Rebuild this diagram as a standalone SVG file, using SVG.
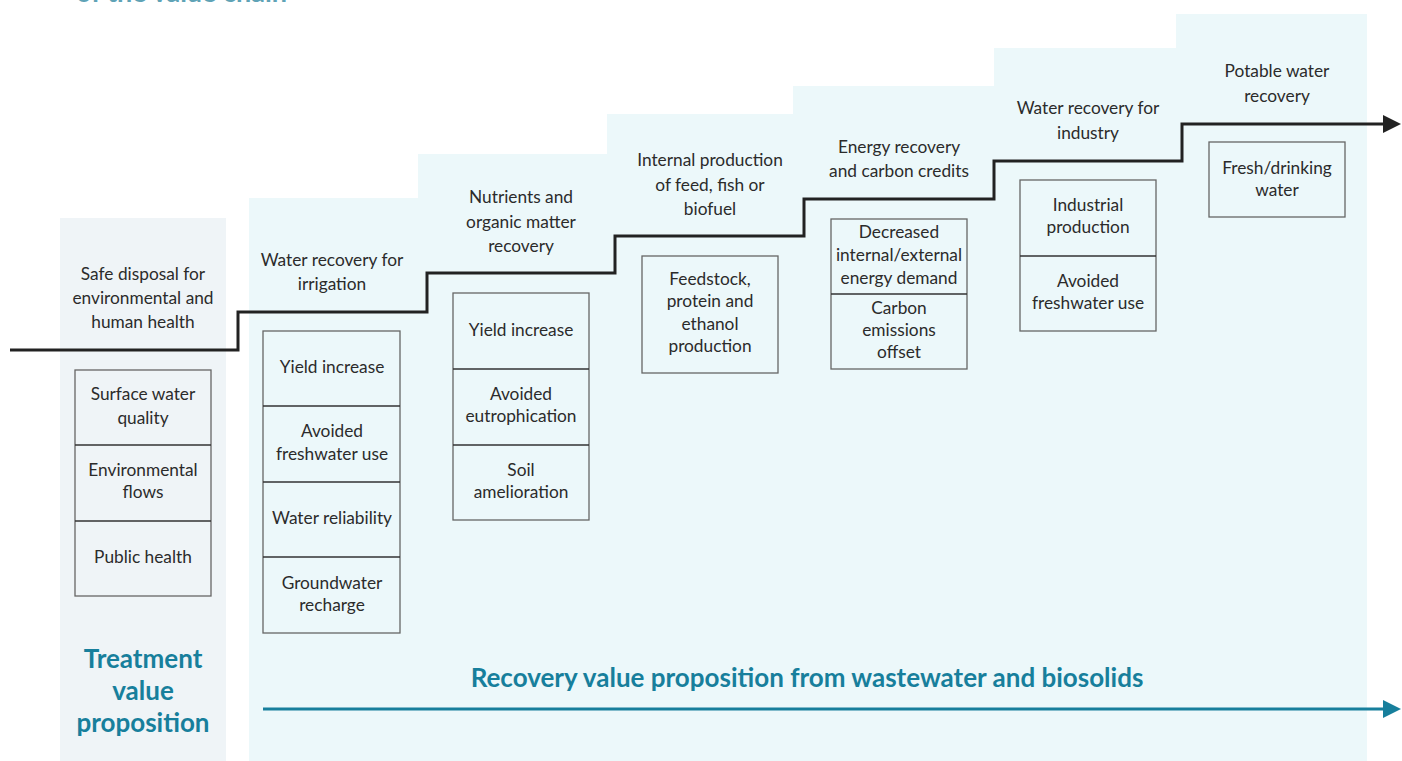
<svg xmlns="http://www.w3.org/2000/svg" width="1402" height="761" viewBox="0 0 1402 761">
<style>
.t{font-family:Lato,"Liberation Sans",sans-serif;font-size:17.3px;fill:#2b2b2b;text-anchor:middle}
.b{fill:none;stroke:#666;stroke-width:1.3}
.d{stroke:#333;stroke-width:1.3}
.h{font-family:Lato,"Liberation Sans",sans-serif;font-weight:bold;fill:#177f9c;text-anchor:middle}
</style>
<defs>
<marker id="ak" markerWidth="6" markerHeight="6" refX="1" refY="3" orient="auto" markerUnits="strokeWidth"><path d="M0,0 L6,3 L0,6 Z" fill="#222"/></marker>
<marker id="at" markerWidth="6" markerHeight="6" refX="1" refY="3" orient="auto" markerUnits="strokeWidth"><path d="M0,0 L6,3 L0,6 Z" fill="#177f9c"/></marker>
</defs>
<rect width="1402" height="761" fill="#fff"/>
<text x="76" y="2" class="h" style="font-size:27px;text-anchor:start;fill:#5fa3b6">of the value chain</text>
<g id="panels">
<rect x="60" y="218" width="166" height="543" fill="#eff4f7"/>
<path d="M249,761 V198 H418 V154 H607 V114 H793 V86 H994 V48 H1176 V14 H1367 V761 Z" fill="#ecf8fa"/>
</g>
<g id="connectors">
<polyline points="10,350 238,350 238,312 427,312 427,273 615,273 615,236 804,236 804,199 994,199 994,161 1182,161 1182,124 1386,124" fill="none" stroke="#222" stroke-width="3" marker-end="url(#ak)"/>
<line x1="263" y1="709" x2="1386" y2="709" stroke="#177f9c" stroke-width="3" marker-end="url(#at)"/>
</g>
<g id="col1">
<text class="t" x="143"><tspan x="143" y="280">Safe disposal for</tspan><tspan x="143" y="304">environmental and</tspan><tspan x="143" y="328">human health</tspan></text>
<rect class="b" x="75" y="370" width="136" height="226"/>
<line class="d" x1="75" y1="445" x2="211" y2="445"/><line class="d" x1="75" y1="521" x2="211" y2="521"/>
<text class="t"><tspan x="143" y="400">Surface water</tspan><tspan x="143" y="424">quality</tspan><tspan x="143" y="476">Environmental</tspan><tspan x="143" y="498">flows</tspan><tspan x="143" y="563">Public health</tspan></text>
</g>
<g id="col2">
<text class="t"><tspan x="332" y="266">Water recovery for</tspan><tspan x="332" y="290">irrigation</tspan></text>
<rect class="b" x="263" y="331" width="137" height="302"/>
<line class="d" x1="263" y1="406" x2="400" y2="406"/><line class="d" x1="263" y1="482" x2="400" y2="482"/><line class="d" x1="263" y1="557" x2="400" y2="557"/>
<text class="t"><tspan x="332" y="373">Yield increase</tspan><tspan x="332" y="437">Avoided</tspan><tspan x="332" y="460">freshwater use</tspan><tspan x="332" y="524">Water reliability</tspan><tspan x="332" y="589">Groundwater</tspan><tspan x="332" y="611">recharge</tspan></text>
</g>
<g id="col3">
<text class="t"><tspan x="521" y="203">Nutrients and</tspan><tspan x="521" y="228">organic matter</tspan><tspan x="521" y="252">recovery</tspan></text>
<rect class="b" x="453" y="293" width="136" height="227"/>
<line class="d" x1="453" y1="369" x2="589" y2="369"/><line class="d" x1="453" y1="445" x2="589" y2="445"/>
<text class="t"><tspan x="521" y="336">Yield increase</tspan><tspan x="521" y="400">Avoided</tspan><tspan x="521" y="422">eutrophication</tspan><tspan x="521" y="476">Soil</tspan><tspan x="521" y="498">amelioration</tspan></text>
</g>
<g id="col4">
<text class="t"><tspan x="710" y="166">Internal production</tspan><tspan x="710" y="191">of feed, fish or</tspan><tspan x="710" y="215">biofuel</tspan></text>
<rect class="b" x="642" y="256" width="136" height="117"/>
<text class="t"><tspan x="710" y="285">Feedstock,</tspan><tspan x="710" y="307">protein and</tspan><tspan x="710" y="330">ethanol</tspan><tspan x="710" y="352">production</tspan></text>
</g>
<g id="col5">
<text class="t"><tspan x="899" y="153">Energy recovery</tspan><tspan x="899" y="177">and carbon credits</tspan></text>
<rect class="b" x="831" y="219" width="136" height="150"/>
<line class="d" x1="831" y1="294" x2="967" y2="294"/>
<text class="t"><tspan x="899" y="238">Decreased</tspan><tspan x="899" y="261">internal/external</tspan><tspan x="899" y="284">energy demand</tspan><tspan x="899" y="314">Carbon</tspan><tspan x="899" y="336">emissions</tspan><tspan x="899" y="358">offset</tspan></text>
</g>
<g id="col6">
<text class="t"><tspan x="1088" y="114">Water recovery for</tspan><tspan x="1088" y="139">industry</tspan></text>
<rect class="b" x="1020" y="180" width="136" height="151"/>
<line class="d" x1="1020" y1="256" x2="1156" y2="256"/>
<text class="t"><tspan x="1088" y="211">Industrial</tspan><tspan x="1088" y="233">production</tspan><tspan x="1088" y="287">Avoided</tspan><tspan x="1088" y="309">freshwater use</tspan></text>
</g>
<g id="col7">
<text class="t"><tspan x="1277" y="77">Potable water</tspan><tspan x="1277" y="102">recovery</tspan></text>
<rect class="b" x="1209" y="142" width="136" height="75"/>
<text class="t"><tspan x="1277" y="174">Fresh/drinking</tspan><tspan x="1277" y="196">water</tspan></text>
</g>
<g id="labels">
<text class="h" style="font-size:26px"><tspan x="143" y="668">Treatment</tspan><tspan x="143" y="700">value</tspan><tspan x="143" y="732">proposition</tspan></text>
<text class="h" x="807" y="687" style="font-size:26px">Recovery value proposition from wastewater and biosolids</text>
</g>
</svg>
